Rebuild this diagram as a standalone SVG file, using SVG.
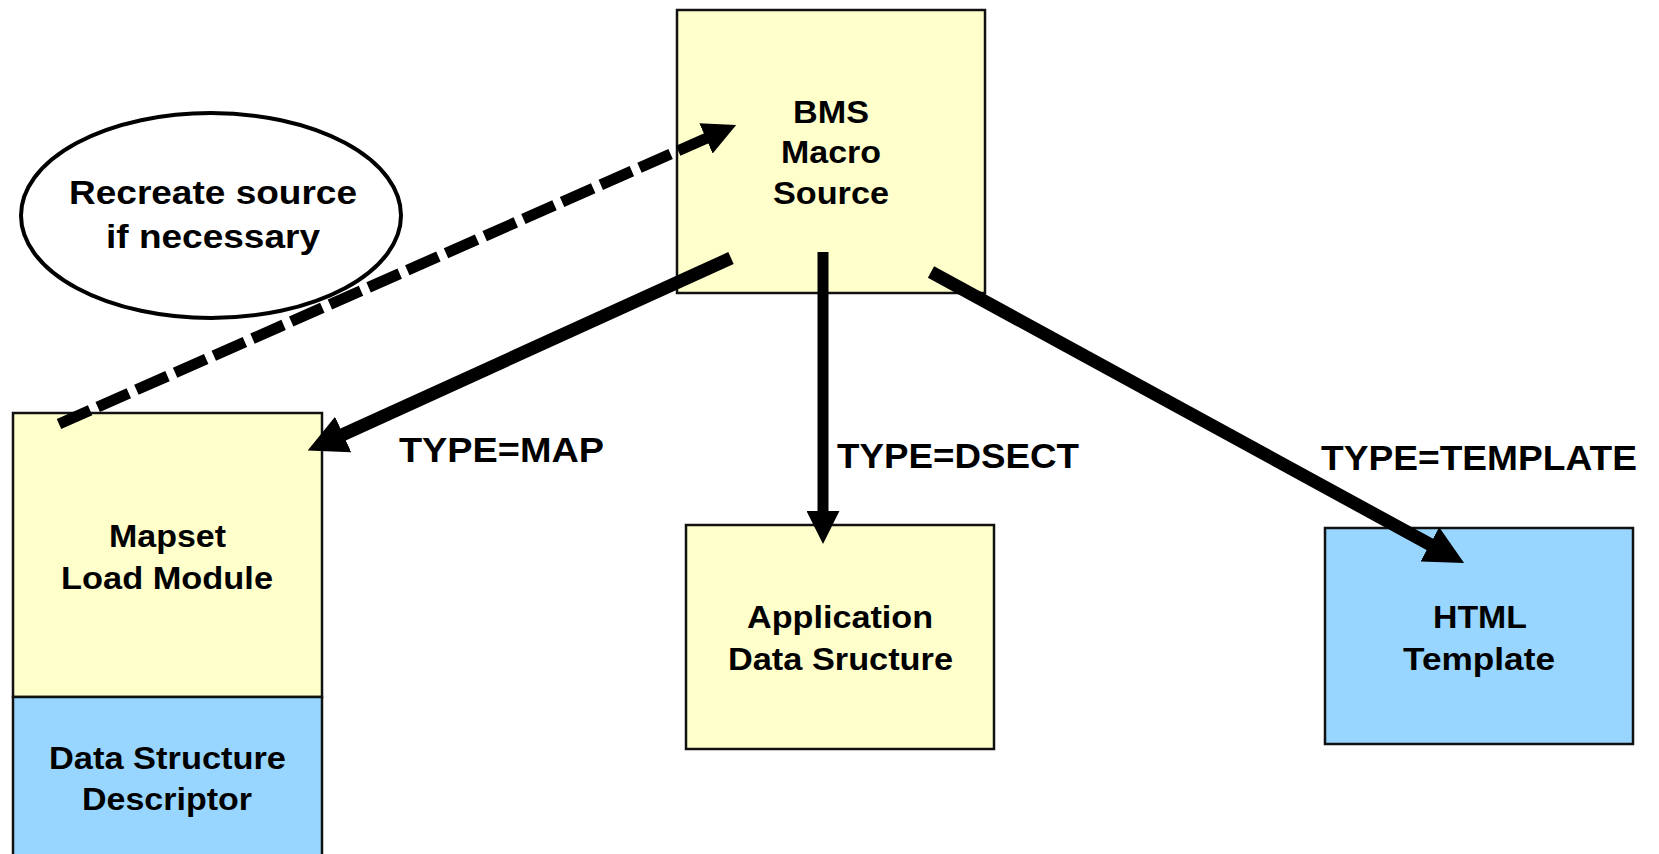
<svg xmlns="http://www.w3.org/2000/svg" width="1659" height="854" viewBox="0 0 1659 854">
<style>
  .box { stroke: #111; stroke-width: 2.5; }
  .yellow { fill: #FFFFCC; }
  .blue { fill: #99D6FF; }
  .t { font-family: "Liberation Sans", Arial, sans-serif; font-weight: bold; fill: #000; }
  .n { font-size: 32px; }
  .lbl { font-size: 35px; }
  .conn { stroke: #000; fill: none; stroke-linecap: butt; }
</style>
<defs>
  <marker id="head" markerUnits="strokeWidth" viewBox="0 -1.5 3 3" markerWidth="3" markerHeight="3" refX="0.1" refY="0" orient="auto">
    <path d="M0,-1.5 L3,0 L0,1.5 z" fill="#000"/>
  </marker>
</defs>
<rect width="1659" height="854" fill="#fff"/>

<g id="node-bms">
  <rect class="box yellow" x="677" y="10" width="308" height="283"/>
  <text class="t n" x="793" y="123" textLength="76" lengthAdjust="spacingAndGlyphs">BMS</text>
  <text class="t n" x="781" y="163" textLength="100" lengthAdjust="spacingAndGlyphs">Macro</text>
  <text class="t n" x="773" y="204" textLength="116" lengthAdjust="spacingAndGlyphs">Source</text>
</g>

<g id="node-recreate">
  <ellipse cx="211" cy="215.5" rx="190" ry="102.5" fill="#fff" stroke="#000" stroke-width="4"/>
  <text class="t" font-size="33" x="69" y="204" textLength="288" lengthAdjust="spacingAndGlyphs">Recreate source</text>
  <text class="t" font-size="33" x="106" y="248" textLength="214" lengthAdjust="spacingAndGlyphs">if necessary</text>
</g>

<g id="node-mapset">
  <rect class="box yellow" x="13" y="413" width="309" height="284"/>
  <text class="t n" x="109" y="547" textLength="117" lengthAdjust="spacingAndGlyphs">Mapset</text>
  <text class="t n" x="61" y="589" textLength="212" lengthAdjust="spacingAndGlyphs">Load Module</text>
</g>

<g id="node-dsd">
  <rect class="box blue" x="13" y="697" width="309" height="170"/>
  <text class="t n" x="49" y="769" textLength="237" lengthAdjust="spacingAndGlyphs">Data Structure</text>
  <text class="t n" x="82" y="810" textLength="170" lengthAdjust="spacingAndGlyphs">Descriptor</text>
</g>

<g id="node-app">
  <rect class="box yellow" x="686" y="525" width="308" height="224"/>
  <text class="t n" x="747" y="628" textLength="186" lengthAdjust="spacingAndGlyphs">Application</text>
  <text class="t n" x="728" y="670" textLength="225" lengthAdjust="spacingAndGlyphs">Data Sructure</text>
</g>

<g id="node-html">
  <rect class="box blue" x="1325" y="528" width="308" height="216"/>
  <text class="t n" x="1433" y="628" textLength="94" lengthAdjust="spacingAndGlyphs">HTML</text>
  <text class="t n" x="1403" y="670" textLength="152" lengthAdjust="spacingAndGlyphs">Template</text>
</g>

<g id="connectors">
  <path class="conn" d="M59,424 L707,138" stroke-width="11" stroke-dasharray="34 8.3" marker-end="url(#head)"/>
  <path class="conn" d="M731,258 L342,435" stroke-width="13" marker-end="url(#head)"/>
  <path class="conn" d="M823,252 L823,512" stroke-width="11" marker-end="url(#head)"/>
  <path class="conn" d="M931,272 L1431,545" stroke-width="13" marker-end="url(#head)"/>
</g>

<g id="labels">
  <text class="t lbl" x="399" y="462" textLength="205" lengthAdjust="spacingAndGlyphs">TYPE=MAP</text>
  <text class="t lbl" x="837" y="468" textLength="242" lengthAdjust="spacingAndGlyphs">TYPE=DSECT</text>
  <text class="t lbl" x="1321" y="470" textLength="316" lengthAdjust="spacingAndGlyphs">TYPE=TEMPLATE</text>
</g>
</svg>
